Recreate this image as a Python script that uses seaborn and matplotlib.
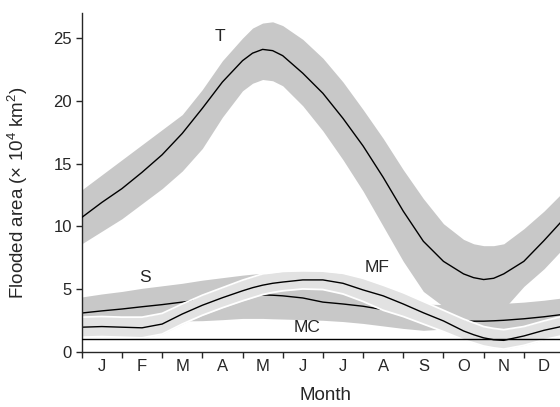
import numpy as np
import pandas as pd
import seaborn as sns
import matplotlib.pyplot as plt

# sample positions in months (0 = start of January), extra points near the T peak / trough
month_pos = [0, 0.5, 1.0, 1.5, 2.0, 2.5, 3.0, 3.5, 4.0, 4.25, 4.5, 4.75, 5.0, 5.5, 6.0,
             6.5, 7.0, 7.5, 8.0, 8.5, 9.0, 9.5, 9.75, 10.0, 10.25, 10.5, 11.0, 11.5, 12.0]
months = ["J", "F", "M", "A", "M", "J", "J", "A", "S", "O", "N", "D"]

# T: total
t_mean = [10.7, 11.9, 13.0, 14.3, 15.7, 17.4, 19.4, 21.5, 23.2, 23.8, 24.1, 24.0, 23.6, 22.2, 20.6,
          18.6, 16.4, 13.9, 11.2, 8.8, 7.2, 6.2, 5.9, 5.75, 5.85, 6.2, 7.2, 8.85, 10.6]
t_upper = [12.9, 14.1, 15.3, 16.5, 17.7, 18.9, 20.9, 23.2, 25.0, 25.8, 26.2, 26.3, 26.0, 24.9, 23.4,
           21.5, 19.3, 17.0, 14.5, 12.2, 10.2, 8.95, 8.6, 8.45, 8.45, 8.6, 9.8, 11.2, 12.8]
t_lower = [8.6, 9.6, 10.6, 11.8, 13.0, 14.4, 16.2, 18.7, 20.8, 21.4, 21.7, 21.6, 21.2, 19.6, 17.6,
           15.3, 12.8, 10.0, 7.2, 4.8, 3.6, 3.4, 3.4, 3.4, 3.4, 3.4, 5.2, 6.6, 8.3]

# S
s_mean = [3.08, 3.25, 3.4, 3.58, 3.75, 3.95, 4.15, 4.35, 4.5, 4.52, 4.52, 4.5, 4.45, 4.28, 3.95,
          3.8, 3.62, 3.35, 3.05, 2.8, 2.6, 2.45, 2.43, 2.43, 2.46, 2.5, 2.62, 2.78, 2.98]
s_upper = [4.36, 4.6, 4.8, 5.05, 5.25, 5.45, 5.7, 5.9, 6.1, 6.18, 6.25, 6.23, 6.2, 6.0, 5.75,
           5.45, 5.1, 4.7, 4.25, 3.8, 3.75, 3.75, 3.76, 3.78, 3.8, 3.85, 3.95, 4.1, 4.3]
s_lower = [2.3, 2.3, 2.3, 2.35, 2.4, 2.45, 2.47, 2.55, 2.65, 2.65, 2.65, 2.62, 2.6, 2.55, 2.5,
           2.4, 2.25, 2.05, 1.85, 1.7, 1.8, 1.9, 1.87, 1.85, 1.78, 1.7, 1.9, 2.1, 2.3]

# MF
mf_mean = [1.95, 2.0, 1.95, 1.9, 2.2, 3.0, 3.7, 4.3, 4.85, 5.1, 5.3, 5.45, 5.55, 5.72, 5.72,
           5.45, 4.92, 4.45, 3.8, 3.1, 2.45, 1.65, 1.35, 1.1, 0.95, 0.9, 1.25, 1.7, 2.05]
mf_upper = [2.75, 2.8, 2.75, 2.75, 3.05, 3.8, 4.5, 5.1, 5.7, 5.95, 6.2, 6.3, 6.4, 6.45, 6.42,
            6.25, 5.85, 5.3, 4.7, 4.0, 3.3, 2.6, 2.3, 2.0, 1.85, 1.75, 2.0, 2.45, 2.85]
mf_lower = [1.15, 1.2, 1.15, 1.1, 1.4, 2.2, 2.9, 3.5, 4.05, 4.3, 4.55, 4.72, 4.85, 5.0, 4.95,
            4.6, 4.0, 3.3, 2.8, 2.2, 1.6, 0.95, 0.7, 0.45, 0.3, 0.2, 0.5, 0.95, 1.3]

# MC
mc_area = 1.0

df = pd.DataFrame({"x": month_pos, "T": t_mean, "S": s_mean, "MF": mf_mean})

sns.set_style("ticks")
plt.rcParams["font.family"] = ["Liberation Sans", "DejaVu Sans"]
plt.rcParams["mathtext.fontset"] = "custom"
plt.rcParams["mathtext.rm"] = "Liberation Sans"

band = "#c8c8c8"
light = "#e2e2e2"

fig = plt.figure(figsize=(5.6, 4.07), dpi=100)
ax = fig.add_axes([0.146, 0.136, 0.854, 0.832])

ax.fill_between(month_pos, t_lower, t_upper, color=band, lw=0, zorder=1)
sns.lineplot(data=df, x="x", y="T", color="black", lw=1.0, ax=ax, zorder=3)

ax.fill_between(month_pos, s_lower, s_upper, color=band, lw=0, zorder=1.5)
sns.lineplot(data=df, x="x", y="S", color="black", lw=1.0, ax=ax, zorder=1.6)

ax.fill_between(month_pos, mf_lower, mf_upper, color=light, lw=0, zorder=2)
ax.plot(month_pos, mf_upper, color="white", lw=1.3, zorder=2.1)
ax.plot(month_pos, mf_lower, color="white", lw=1.3, zorder=2.1)
sns.lineplot(data=df, x="x", y="MF", color="black", lw=1.0, ax=ax, zorder=2.5)

ax.axhline(mc_area, color="black", lw=1.0, zorder=4)

ax.text(3.44, 25.1, "T", ha="center", va="center", fontsize=12.5)
ax.text(1.58, 5.9, "S", ha="center", va="center", fontsize=12.5)
ax.text(7.35, 6.7, "MF", ha="center", va="center", fontsize=12.5)
ax.text(5.6, 1.9, "MC", ha="center", va="center", fontsize=12.5)

ax.set_xlim(0, 11.9)
ax.set_ylim(0, 27)
ax.set_xticks(np.arange(0, 12))
ax.set_xticklabels([])
ax.set_xticks(np.arange(0.5, 12), minor=True)
ax.set_xticklabels(months, minor=True)
ax.tick_params(axis="x", which="minor", length=0, pad=5, labelsize=12)
ax.tick_params(axis="x", which="major", length=4, width=1)
ax.set_yticks([0, 5, 10, 15, 20, 25])
ax.tick_params(axis="y", length=4, width=1, labelsize=12, pad=3)

ax.set_xlabel("Month", fontsize=13.5)
ax.set_ylabel(r"Flooded area (× 10$^{\mathregular{4}}$ km$^{\mathregular{2}}$)", fontsize=13.5)
ax.xaxis.set_label_coords(0.51, -0.105)
ax.yaxis.set_label_coords(-0.108, 0.47)

sns.despine(ax=ax)
for sp in ax.spines.values():
    sp.set_linewidth(1.0)

fig.savefig("out.png", dpi=100)
